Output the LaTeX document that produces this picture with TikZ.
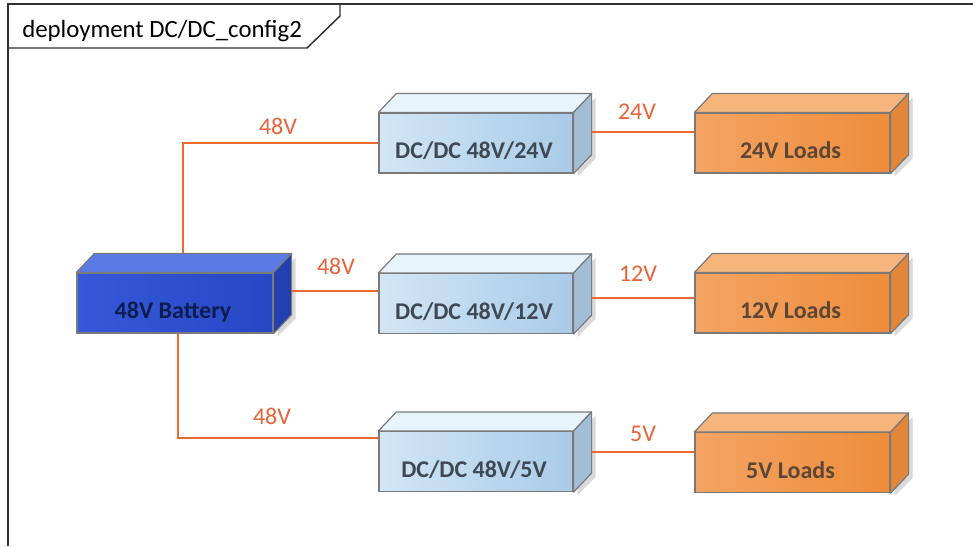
\documentclass[tikz,border=0pt]{standalone}
\usepackage{fontspec}
\setmainfont{Carlito}
\usetikzlibrary{calc,backgrounds}
\definecolor{batL}{HTML}{3559DA}
\definecolor{batR}{HTML}{2747C4}
\definecolor{batT}{HTML}{5A7AE6}
\definecolor{batS}{HTML}{2240B0}
\definecolor{batX}{HTML}{0E1C4E}
\definecolor{dcL}{HTML}{D2E6F5}
\definecolor{dcR}{HTML}{A9CBE7}
\definecolor{dcT}{HTML}{E8F4FC}
\definecolor{dcS}{HTML}{A2BED6}
\definecolor{dcX}{HTML}{3E4955}
\definecolor{ldL}{HTML}{F3A463}
\definecolor{ldR}{HTML}{EE8D3B}
\definecolor{ldT}{HTML}{F6B57C}
\definecolor{ldS}{HTML}{E2873A}
\definecolor{ldX}{HTML}{5C4636}
\definecolor{edgec}{HTML}{7A7A7A}
\definecolor{wirec}{HTML}{EC6A30}
\definecolor{labc}{HTML}{E8623A}
\definecolor{shadowc}{HTML}{D9D9D9}
\definecolor{framec}{HTML}{303030}
\newcommand\cuboid[7]{%
  \node[front, left color=#5L, right color=#5R, minimum width=#4] (#1) at (#2,#3) {};
  \begin{pgfonlayer}{background}
    \fill[shadowc] ($(#1.north east)+(4,3)$) -- ($(#1.north east)+(22,-15)$)
      -- ($(#1.south east)+(22,-15)$) -- ($(#1.south east)+(4,3)$) -- cycle;
  \end{pgfonlayer}
  \filldraw[fill=#5T, draw=edgec, line width=0.9pt, line join=round]
    (#1.north west) -- ++(18,-19) -- ($(#1.north east)+(18,-19)$) -- (#1.north east) -- cycle;
  \filldraw[fill=#5S, draw=edgec, line width=0.9pt, line join=round]
    (#1.north east) -- ++(18,-19) -- ($(#1.south east)+(18,-19)$) -- (#1.south east) -- cycle;
  \node[btext, text=#6] (#1t) at ($(#1.south)+(-2,-15)$) {#7};
}
\begin{document}
\begin{tikzpicture}[x=0.75pt,y=-0.75pt,
  font=\fontsize{18pt}{22pt}\selectfont,
  front/.style={draw=edgec, line width=0.9pt, inner sep=0pt, minimum height=45pt, rectangle},
  wire/.style={draw=wirec, line width=1.4pt},
  vlabel/.style={text=labc, inner sep=0pt},
  btext/.style={font=\fontsize{18pt}{22pt}\selectfont\bfseries, anchor=base, inner sep=0pt}]
\useasboundingbox (0,0) rectangle (973,546);
% frame
\draw[framec, line width=1.1pt] (8,546) -- (8,4) -- (973,4);
\draw[framec, line width=1.1pt] (8,48) -- (307,48) -- (340,16) -- (340,4);
\node[anchor=base west, inner sep=0pt, font=\fontsize{18.6pt}{22pt}\selectfont] (title) at (22,37) {deployment DC/DC\_config2};
% boxes
\cuboid{bat}{175}{303}{147pt}{bat}{batX}{48V Battery}
\cuboid{dca}{476}{143}{145.5pt}{dc}{dcX}{DC/DC 48V/24V}
\cuboid{dcb}{476}{303.5}{145.5pt}{dc}{dcX}{DC/DC 48V/12V}
\cuboid{dcc}{476}{461.5}{145.5pt}{dc}{dcX}{DC/DC 48V/5V}
\cuboid{lda}{792.5}{143}{146.25pt}{ld}{ldX}{24V Loads}
\cuboid{ldb}{792.5}{303}{146.25pt}{ld}{ldX}{12V Loads}
\cuboid{ldc}{792.5}{462.5}{146.25pt}{ld}{ldX}{5V Loads}
% wires
\begin{scope}[on background layer]
  \draw[wire] ([xshift=6pt]bat.north) |- (dca.west);
  \coordinate (w2) at ([yshift=9pt]bat.east);
  \draw[wire] (w2) -- (w2 -| dcb.west);
  \draw[wire] ([xshift=2.25pt]bat.south) |- ([yshift=17.6pt]dcc.west);
  \coordinate (w4) at ([yshift=8.25pt]dca.east);
  \draw[wire] (w4) -- (w4 -| lda.west);
  \coordinate (w5) at ([yshift=4.1pt]dcb.east);
  \draw[wire] (w5) -- (w5 -| ldb.west);
  \coordinate (w6) at ([yshift=7.1pt]dcc.east);
  \draw[wire] (w6) -- (w6 -| ldc.west);
\end{scope}
% labels
\node[vlabel] (l1) at (278,126) {48V};
\node[vlabel] (l2) at (336,266) {48V};
\node[vlabel] (l3) at (272,416) {48V};
\node[vlabel] (l4) at (637,112) {24V};
\node[vlabel] (l5) at (638,274) {12V};
\node[vlabel] (l6) at (643,434) {5V};
\end{tikzpicture}
\end{document}
